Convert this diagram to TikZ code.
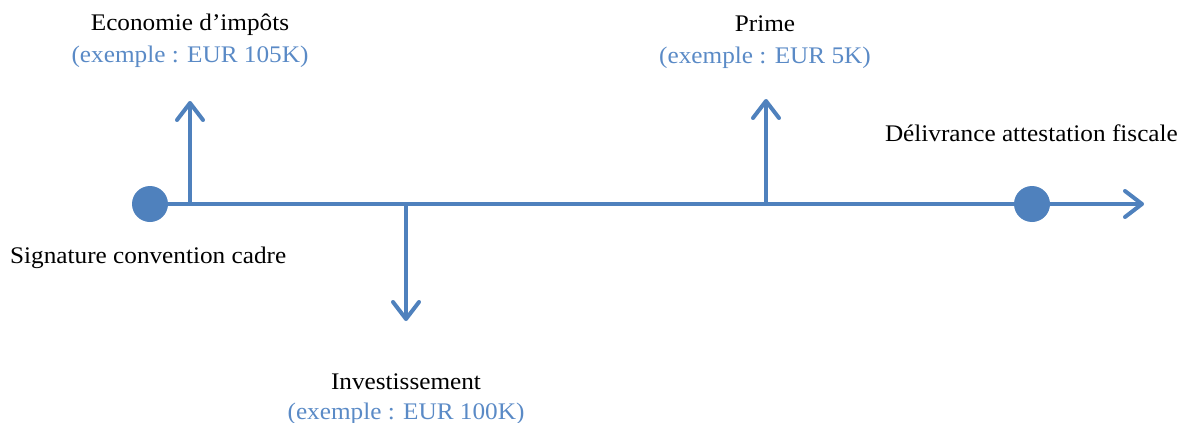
\documentclass[tikz,border=0pt]{standalone}
\usepackage{fontspec}
\setmainfont[FakeStretch=1.06]{Liberation Serif}
\usetikzlibrary{arrows.meta}
\definecolor{lineblue}{HTML}{4F81BD}
\definecolor{textblue}{HTML}{5A8AC6}
\begin{document}
\begin{tikzpicture}[x=1pt,y=-1pt,
  conn/.style={draw=lineblue,line width=4pt,-{Straight Barb[length=17pt,width=26pt,line width=4pt,round]}},
  dot/.style={circle,fill=lineblue,minimum size=36pt,inner sep=0pt},
  lbl/.style={font=\fontsize{23.8}{31}\selectfont,inner sep=0pt},
  ex/.style={lbl,text=textblue},
]
\useasboundingbox (0,0) rectangle (1181,423);
% axis points
\coordinate (pEco) at (190,204);
\coordinate (pInv) at (406,204);
\coordinate (pPrime) at (766,204);
\coordinate (tEco) at (190,101);
\coordinate (tInv) at (406,321);
\coordinate (tPrime) at (766,99);
\coordinate (tEnd) at (1144,204);
% axis
\draw[conn] (150,204) coordinate (pStart) -- (tEnd);
\node[dot] (sig) at (pStart) {};
\node[dot] (del) at (1032,204) {};
% branches
\draw[conn] (pEco) -- (tEco);
\draw[conn] (pInv) -- (tInv);
\draw[conn] (pPrime) -- (tPrime);
% labels
\node[lbl,anchor=base] (ecoT) at (190,30) {Economie d’impôts};
\node[ex,anchor=base] (ecoE) at (190,62) {(exemple : EUR 105K)};
\node[lbl,anchor=base] (primeT) at (765,31) {Prime};
\node[ex,anchor=base] (primeE) at (765,63) {(exemple : EUR 5K)};
\node[lbl,anchor=base east] (delT) at (1178,141) {Délivrance attestation fiscale};
\node[lbl,anchor=base west] (sigT) at (10,263) {Signature convention cadre};
\node[lbl,anchor=base] (invT) at (406,389) {Investissement};
\node[ex,anchor=base] (invE) at (406,419) {(exemple : EUR 100K)};
\end{tikzpicture}
\end{document}
